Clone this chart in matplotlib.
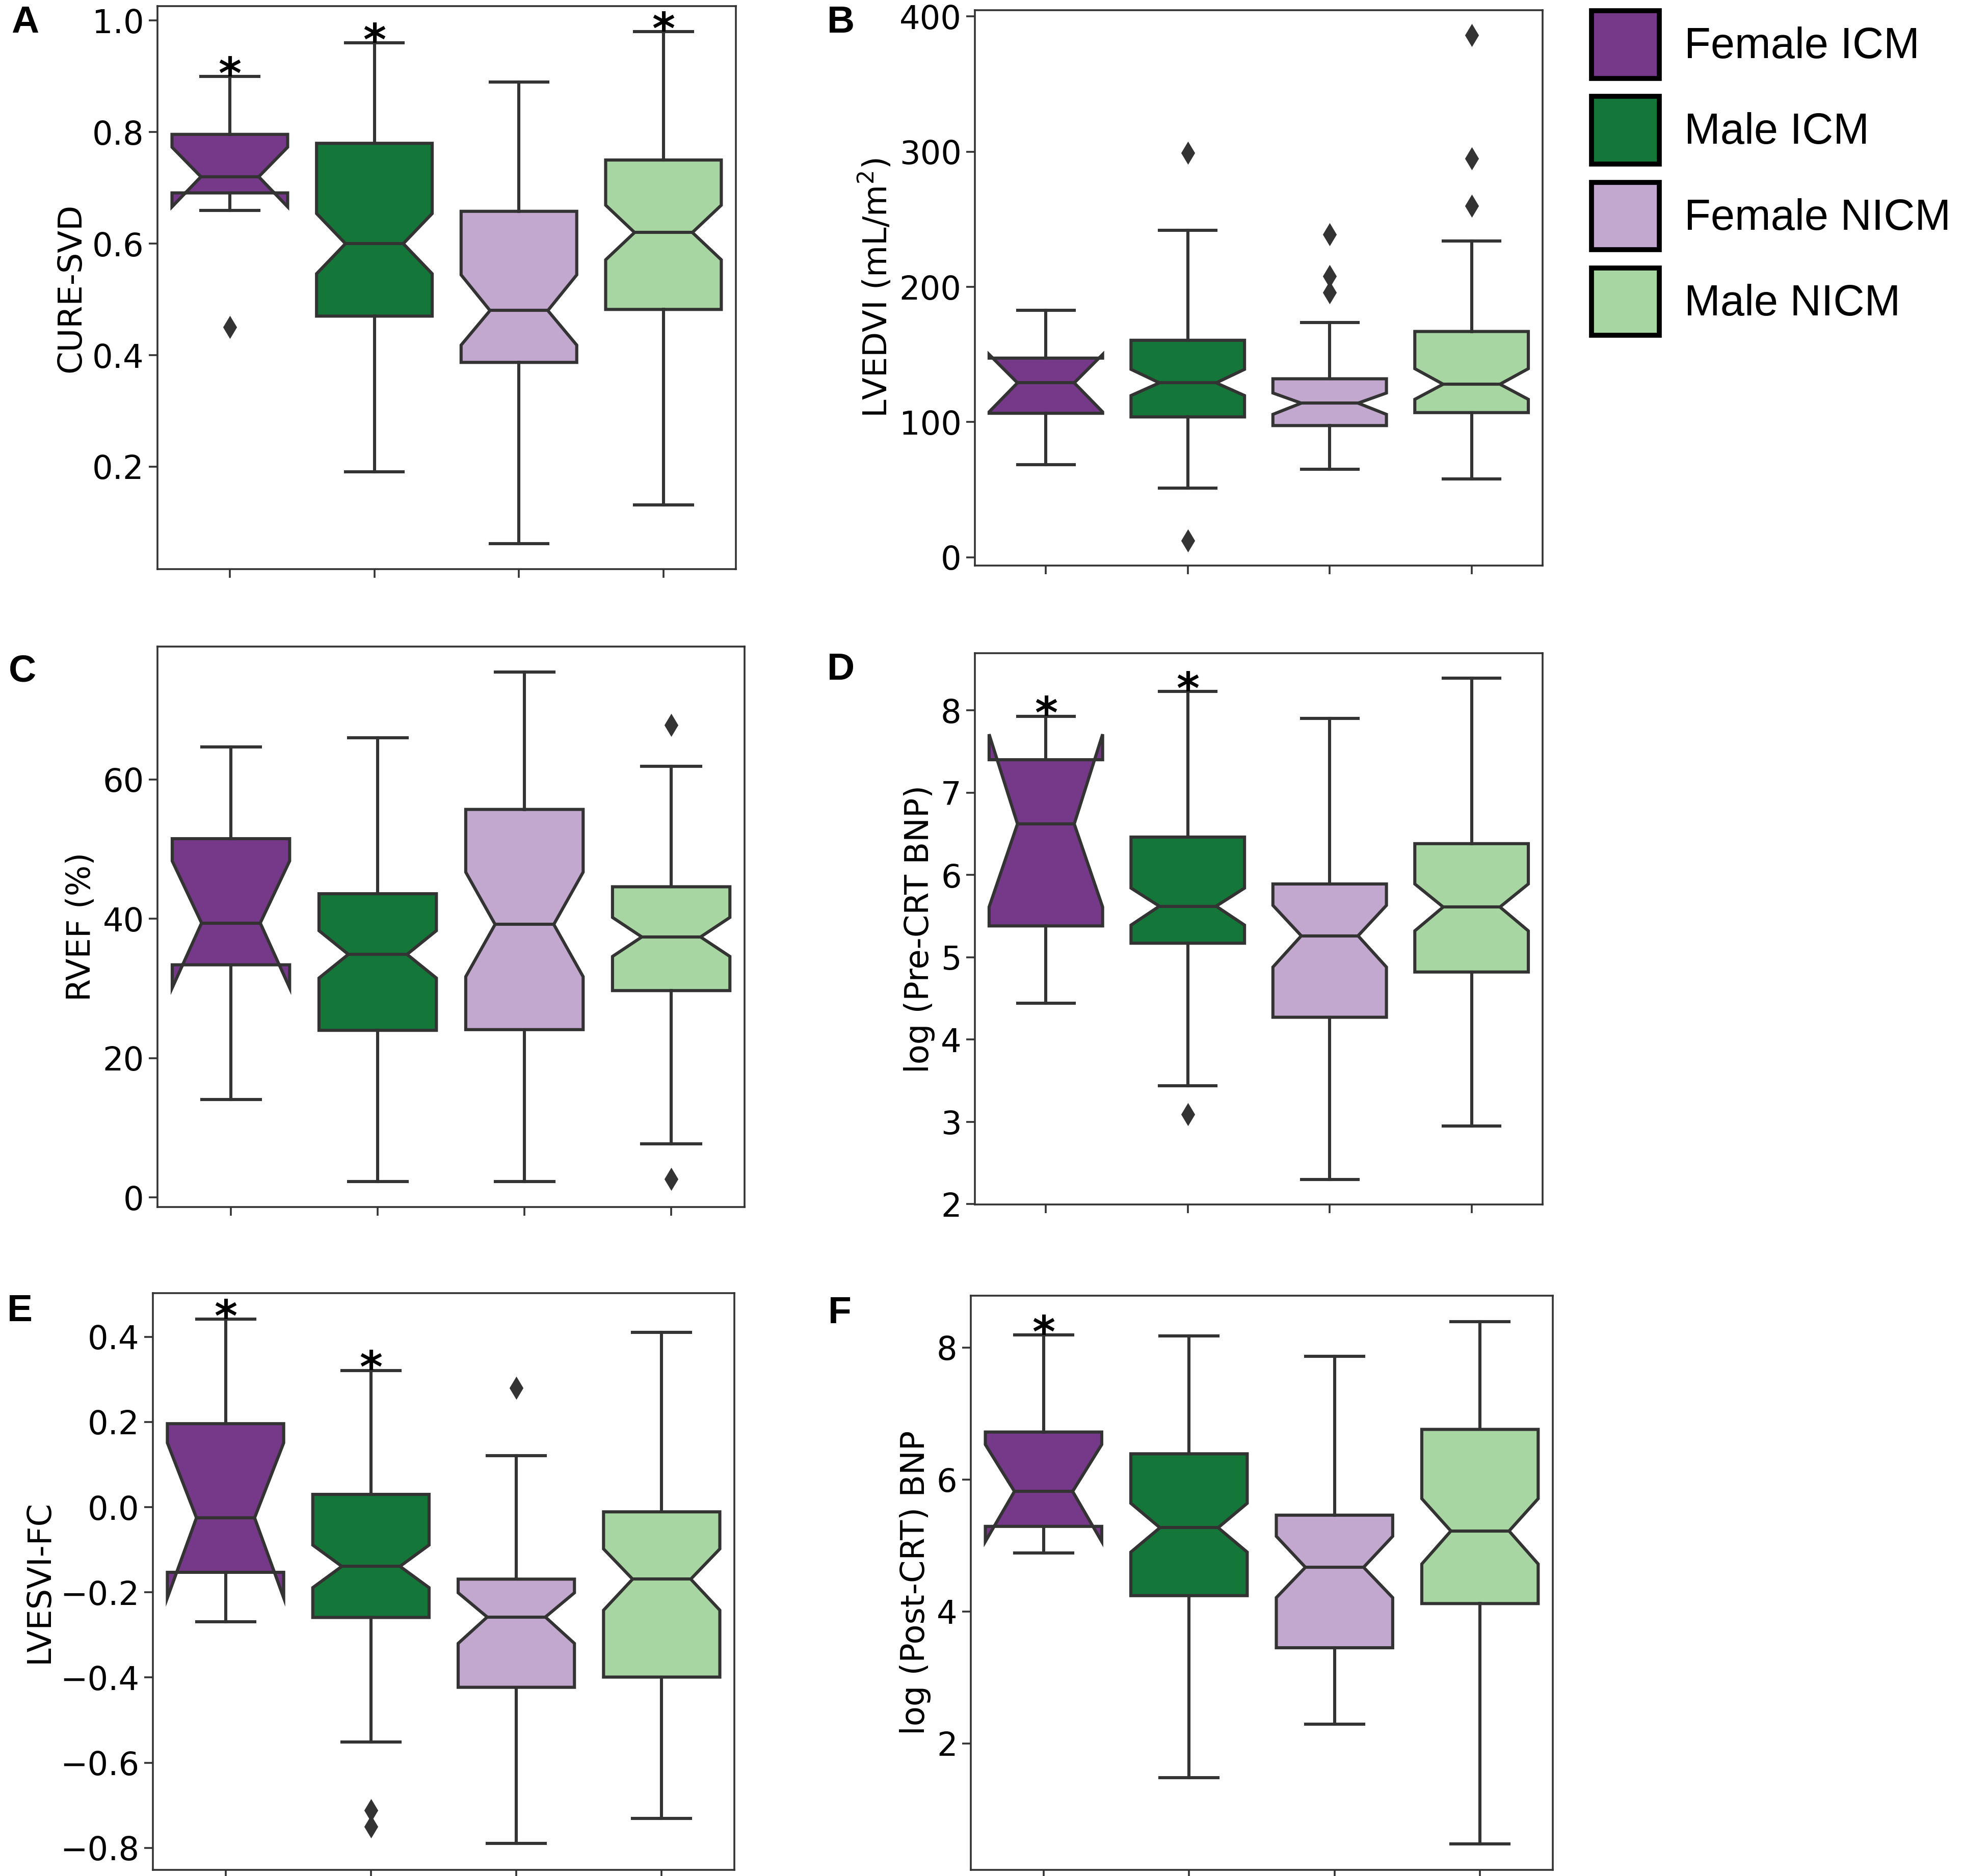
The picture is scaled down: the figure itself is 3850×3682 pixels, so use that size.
import matplotlib
matplotlib.use('Agg')
from matplotlib import pyplot as plt
import matplotlib.ticker as ticker
from matplotlib.patches import Patch


# ----- Groups and colours (PRGn-like) ----- #
groups = ['Female ICM', 'Male ICM', 'Female NICM', 'Male NICM']
colors = ['#763889', '#15763a', '#c2a8ce', '#a8d6a2']

# ----- Box statistics ----- #
# columns: whisker low, Q1, notch low, median, notch high, Q3, whisker high
stat_cols = ['whislo', 'q1', 'cilo', 'med', 'cihi', 'q3', 'whishi']

cure_svd = [[0.660, 0.691, 0.666, 0.720, 0.773, 0.796, 0.900],
            [0.191, 0.470, 0.546, 0.600, 0.654, 0.780, 0.960],
            [0.062, 0.387, 0.418, 0.480, 0.544, 0.658, 0.890],
            [0.131, 0.482, 0.571, 0.620, 0.669, 0.750, 0.980]]
cure_svd_fliers = [[0.450], [], [], []]
cure_svd_stars = [0, 1, 3]

lvedvi = [[68.4, 106.5, 107.5, 129.0, 150.0, 147.3, 182.7],
          [51.2, 103.8, 119.6, 129.0, 139.0, 160.5, 242.0],
          [65.0, 97.4, 105.7, 114.0, 121.5, 132.0, 173.6],
          [58.0, 107.0, 116.8, 128.0, 139.5, 167.0, 234.0]]
lvedvi_fliers = [[], [299.0, 12.5], [239.0, 208.0, 196.0], [386.0, 295.0, 260.0]]
lvedvi_stars = []

rvef = [[14.1, 33.4, 30.1, 39.4, 48.3, 51.5, 64.7],
        [2.3, 24.0, 31.5, 34.9, 38.3, 43.6, 66.0],
        [2.3, 24.1, 31.7, 39.2, 46.7, 55.7, 75.4],
        [7.7, 29.7, 34.6, 37.4, 40.2, 44.6, 61.9]]
rvef_fliers = [[], [], [], [67.8, 2.7]]
rvef_stars = []

pre_bnp = [[4.44, 5.38, 5.61, 6.62, 7.71, 7.40, 7.93],
           [3.44, 5.17, 5.39, 5.62, 5.84, 6.46, 8.23],
           [2.30, 4.27, 4.88, 5.26, 5.63, 5.89, 7.90],
           [2.95, 4.82, 5.32, 5.61, 5.89, 6.38, 8.39]]
pre_bnp_fliers = [[], [3.09], [], []]
pre_bnp_stars = [0, 1]

lvesvi_fc = [[-0.269, -0.153, -0.213, -0.025, 0.151, 0.196, 0.441],
             [-0.551, -0.259, -0.189, -0.139, -0.089, 0.030, 0.321],
             [-0.790, -0.423, -0.320, -0.258, -0.201, -0.169, 0.121],
             [-0.731, -0.399, -0.242, -0.169, -0.098, -0.011, 0.410]]
lvesvi_fc_fliers = [[], [-0.712, -0.750], [0.280], []]
lvesvi_fc_stars = [0, 1]

post_bnp = [[4.89, 5.29, 5.06, 5.82, 6.53, 6.72, 8.19],
            [1.48, 4.24, 4.90, 5.27, 5.64, 6.39, 8.18],
            [2.29, 3.45, 4.21, 4.67, 5.14, 5.46, 7.87],
            [0.48, 4.12, 4.72, 5.22, 5.71, 6.76, 8.39]]
post_bnp_fliers = [[], [], [], []]
post_bnp_stars = [0]

panel_letters = ['A', 'B', 'C', 'D', 'E', 'F']
ylabels = ['CURE-SVD', r'LVEDVI (mL/m$^2$)', 'RVEF (%)',
           'log (Pre-CRT BNP)', 'LVESVI-FC', 'log (Post-CRT) BNP']
ytick_step = [0.2, 100, 20, 1, 0.2, 2]

gray = '#333333'
fs, lw = 23, 2.2

# ----- Figure ----- #
fig = plt.figure(figsize=(19.25, 18.41), dpi=200)

# [left, bottom, width, height] in figure fraction
ax_pos = [[0.0803, 0.6966, 0.2947, 0.3001],
          [0.4969, 0.6985, 0.2893, 0.2961],
          [0.0803, 0.3566, 0.2992, 0.2987],
          [0.4969, 0.3580, 0.2893, 0.2938],
          [0.0779, 0.0033, 0.2964, 0.3074],
          [0.4948, 0.0033, 0.2966, 0.3060]]
letter_pos = [(0.0128, 0.988), (0.4286, 0.988), (0.0115, 0.642),
              (0.4286, 0.643), (0.0102, 0.301), (0.4280, 0.300)]

panels = [(cure_svd, cure_svd_fliers, cure_svd_stars),
          (lvedvi, lvedvi_fliers, lvedvi_stars),
          (rvef, rvef_fliers, rvef_stars),
          (pre_bnp, pre_bnp_fliers, pre_bnp_stars),
          (lvesvi_fc, lvesvi_fc_fliers, lvesvi_fc_stars),
          (post_bnp, post_bnp_fliers, post_bnp_stars)]

for j in range(len(panels)):
    data, fliers, stars = panels[j]
    ax = fig.add_axes(ax_pos[j])

    stats = []
    for row, fl in zip(data, fliers):
        d = dict(zip(stat_cols, row))
        d['fliers'] = fl
        stats.append(d)

    bp = ax.bxp(stats, positions=range(len(groups)), widths=0.8,
                shownotches=True, patch_artist=True, manage_ticks=False,
                boxprops=dict(edgecolor=gray, linewidth=lw),
                whiskerprops=dict(color=gray, linewidth=lw),
                capprops=dict(color=gray, linewidth=lw),
                medianprops=dict(color=gray, linewidth=lw),
                flierprops=dict(marker='d', markerfacecolor=gray,
                                markeredgecolor=gray, markersize=10))
    for patch, c in zip(bp['boxes'], colors):
        patch.set_facecolor(c)

    for k in stars:
        ax.annotate('*', xy=(k, data[k][6]), xytext=(0, -8.5),
                    textcoords='offset points', ha='center', va='baseline',
                    fontsize=31, fontweight='bold', color='k')

    ax.set_xlim(-0.5, len(groups) - 0.5)
    ax.set_xticks(range(len(groups)))
    ax.set_xticklabels([])
    ax.yaxis.set_major_locator(ticker.MultipleLocator(ytick_step[j]))
    ax.tick_params(labelsize=fs, length=6, width=1.3, color=gray)
    ax.set_ylabel(ylabels[j], fontsize=fs)
    for axis in ['top', 'bottom', 'left', 'right']:
        ax.spines[axis].set_linewidth(1.3)
        ax.spines[axis].set_color(gray)

    fig.text(letter_pos[j][0], letter_pos[j][1], panel_letters[j],
             fontsize=27, fontweight='bold', family='Liberation Sans',
             ha='center', va='center')

# ----- Legend ----- #
handles = [Patch(facecolor=c, edgecolor='k', linewidth=3.5) for c in colors]
fig.legend(handles, groups, loc='upper left', bbox_to_anchor=(0.8112, 0.9943),
           frameon=False, prop={'family': 'Liberation Sans', 'size': 30.5},
           handlelength=1.565, handleheight=2.031, labelspacing=0.421,
           handletextpad=0.58, borderpad=0, borderaxespad=0)

plt.savefig('out.png', dpi=200)
plt.close()
